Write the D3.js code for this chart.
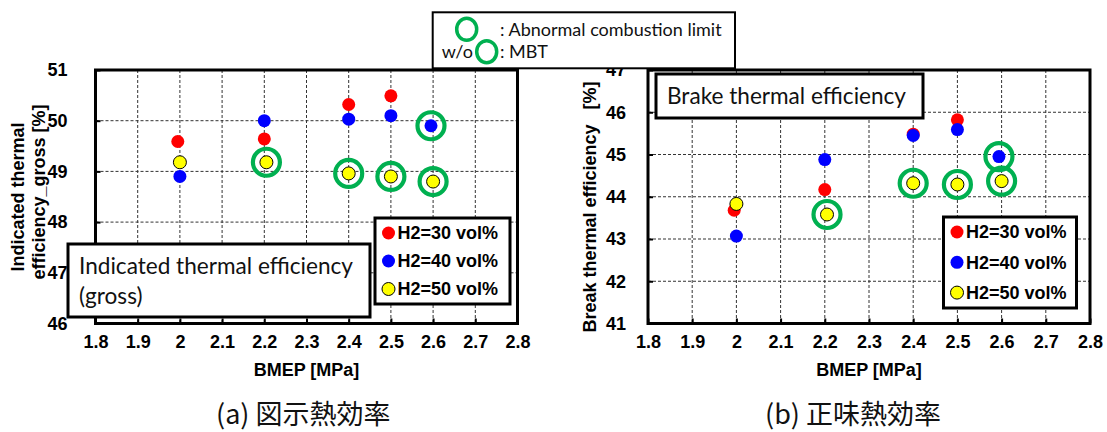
<!DOCTYPE html>
<html lang="en">

<head>
    <meta charset="utf-8">
    <title>Thermal efficiency vs BMEP</title>
    <script src="https://d3js.org/d3.v7.min.js"></script>
    <style>
        body { margin: 0; background: #fff; }
        svg { display: block; }
        .bold { font-family: "Liberation Sans", Arial, sans-serif; font-weight: bold; }
        .cal { font-family: Lato, "Open Sans", sans-serif; }
        .cjk { font-family: "Noto Sans CJK JP", sans-serif; }
    </style>
</head>

<body>
    <div id="chart"></div>
    <script>
        // ---- data ----
        var xTickValues = [1.8, 1.9, 2.0, 2.1, 2.2, 2.3, 2.4, 2.5, 2.6, 2.7, 2.8]
        var seriesNames = ["H2=30 vol%", "H2=40 vol%", "H2=50 vol%"]

        // (a) indicated thermal efficiency (gross) [%]
        var iteBmep30 = [1.995, 2.2, 2.4, 2.5]
        var ite30 = [49.59, 49.64, 50.32, 50.49]
        var iteBmep40 = [2.0, 2.2, 2.4, 2.5, 2.595]
        var ite40 = [48.90, 50.00, 50.03, 50.10, 49.90]
        var iteBmep50 = [2.0, 2.205, 2.4, 2.5, 2.6]
        var ite50 = [49.18, 49.18, 48.96, 48.90, 48.80]
        var iteLimit40 = [false, false, false, false, true]
        var iteLimit50 = [false, true, true, true, true]
        var iteYTicks = [46, 47, 48, 49, 50, 51]

        // (b) brake thermal efficiency [%]
        var bteBmep30 = [1.995, 2.2, 2.4, 2.5]
        var bte30 = [43.68, 44.17, 45.48, 45.82]
        var bteBmep40 = [2.0, 2.2, 2.4, 2.5, 2.594]
        var bte40 = [43.07, 44.88, 45.45, 45.59, 44.95]
        var bteBmep50 = [2.0, 2.205, 2.4, 2.5, 2.6]
        var bte50 = [43.83, 43.58, 44.32, 44.29, 44.37]
        var bteLimit40 = [false, false, false, false, true]
        var bteLimit50 = [false, true, true, true, true]
        var bteYTicks = [41, 42, 43, 44, 45, 46, 47]

        var colors = ["#ff0000", "#0000ff", "#ffff00"]
        var green = "#00b050"

        var width = 1107, height = 432

        var svg = d3.select("#chart").append("svg")
            .attr("width", width)
            .attr("height", height)

        function zip(xs, ys, lim) {
            return xs.map(function (x, i) { return { x: x, y: ys[i], limit: lim ? lim[i] : false } })
        }

        function drawPanel(p) {
            var x = d3.scaleLinear().domain([1.8, 2.8]).range([p.left, p.right])
            var y = d3.scaleLinear().domain(d3.extent(p.yTicks)).range([p.bottom, p.top])
            var g = svg.append("g")

            // dashed grid
            g.selectAll(".vg").data(xTickValues.slice(1, -1)).enter().append("line")
                .attr("x1", function (d) { return x(d) }).attr("x2", function (d) { return x(d) })
                .attr("y1", p.top).attr("y2", p.bottom)
                .attr("stroke", "#333").attr("stroke-width", 1).attr("stroke-dasharray", "3,2")
            g.selectAll(".hg").data(p.yTicks.slice(1, -1)).enter().append("line")
                .attr("x1", p.left).attr("x2", p.right)
                .attr("y1", function (d) { return y(d) }).attr("y2", function (d) { return y(d) })
                .attr("stroke", "#333").attr("stroke-width", 1).attr("stroke-dasharray", "3,2")

            // axes
            var xAxis = g.append("g").attr("transform", "translate(0," + p.bottom + ")")
                .call(d3.axisBottom(x).tickValues(xTickValues).tickFormat(d3.format("~g"))
                    .tickSizeInner(-5).tickSizeOuter(0).tickPadding(12))
            var yAxis = g.append("g").attr("transform", "translate(" + p.left + ",0)")
                .call(d3.axisLeft(y).tickValues(p.yTicks).tickFormat(d3.format("~g"))
                    .tickSizeInner(-5).tickSizeOuter(0).tickPadding(p.yPad))
            ;[xAxis, yAxis].forEach(function (a) {
                a.select(".domain").remove()
                a.selectAll("line").attr("stroke", "#000").attr("stroke-width", 2)
                a.selectAll("text").attr("class", "bold").style("font-size", "18px").attr("fill", "#000")
            })

            // frame
            g.append("rect").attr("x", p.left).attr("y", p.top)
                .attr("width", p.right - p.left).attr("height", p.bottom - p.top)
                .attr("fill", "none").attr("stroke", "#000").attr("stroke-width", 3)

            // points
            p.series.forEach(function (s, i) {
                g.selectAll(".pt" + i).data(s).enter().append("circle")
                    .attr("cx", function (d) { return x(d.x) })
                    .attr("cy", function (d) { return y(d.y) })
                    .attr("r", 6.5)
                    .attr("fill", colors[i])
                    .attr("stroke", i == 2 ? "#000" : "none")
                    .attr("stroke-width", 1)
            })
            // abnormal combustion limit rings
            p.series.forEach(function (s) {
                g.selectAll(".ring").data(s.filter(function (d) { return d.limit })).enter().append("circle")
                    .attr("cx", function (d) { return x(d.x) })
                    .attr("cy", function (d) { return y(d.y) })
                    .attr("r", 13.5)
                    .attr("fill", "none")
                    .attr("stroke", green)
                    .attr("stroke-width", 4.2)
            })

            // title box
            var tb = p.textBox
            g.append("rect").attr("x", tb.x).attr("y", tb.y).attr("width", tb.w).attr("height", tb.h)
                .attr("fill", "#fff").attr("stroke", "#000").attr("stroke-width", 3)
            tb.lines.forEach(function (t, i) {
                g.append("text").attr("class", "cal").attr("x", tb.x + 11).attr("y", tb.y + 30 + i * 30)
                    .style("font-size", "22.6px").attr("fill", "#111").text(t)
            })

            // legend
            var lg = p.legend
            g.append("rect").attr("x", lg.x).attr("y", lg.y).attr("width", lg.w).attr("height", lg.h)
                .attr("fill", "#fff").attr("stroke", "#000").attr("stroke-width", 3)
            seriesNames.forEach(function (name, i) {
                var cy = lg.y + lg.row0 + i * lg.step
                g.append("circle").attr("cx", lg.x + 13.5).attr("cy", cy).attr("r", 6.5)
                    .attr("fill", colors[i]).attr("stroke", i == 2 ? "#000" : "none").attr("stroke-width", 1)
                g.append("text").attr("class", "bold").attr("x", lg.x + 22.5).attr("y", cy)
                    .attr("dy", "0.36em").style("font-size", "18px").text(name)
            })

            // axis titles
            g.append("text").attr("class", "bold").attr("x", (p.left + p.right) / 2).attr("y", 376)
                .attr("text-anchor", "middle").style("font-size", "18px").text("BMEP [MPa]")
            p.yTitle.forEach(function (t) {
                g.append("text").attr("class", "bold")
                    .attr("transform", "translate(" + t.x + "," + t.y + ") rotate(-90)")
                    .attr("text-anchor", "middle").attr("dy", "0.36em")
                    .style("font-size", "18px").style("white-space", "pre").text(t.text)
            })

            // caption
            g.append("text").attr("class", "cjk").attr("x", p.caption.x).attr("y", 424)
                .style("font-size", "27px").attr("fill", "#111").text(p.caption.text)
        }

        drawPanel({
            left: 95.5, right: 517.5, top: 70, bottom: 323.5, yPad: 28,
            yTicks: iteYTicks,
            series: [zip(iteBmep30, ite30), zip(iteBmep40, ite40, iteLimit40), zip(iteBmep50, ite50, iteLimit50)],
            textBox: { x: 68, y: 244, w: 302, h: 73, lines: ["Indicated thermal efficiency", "(gross)"] },
            legend: { x: 375, y: 218, w: 135, h: 86, row0: 15, step: 28 },
            yTitle: [{ x: 18, y: 197, text: "Indicated thermal" }, { x: 39, y: 192, text: "efficiency_gross [%]" }],
            caption: { x: 216, text: "(a) 図示熱効率" }
        })

        drawPanel({
            left: 648, right: 1090, top: 70, bottom: 323.5, yPad: 22,
            yTicks: bteYTicks,
            series: [zip(bteBmep30, bte30), zip(bteBmep40, bte40, bteLimit40), zip(bteBmep50, bte50, bteLimit50)],
            textBox: { x: 656, y: 74, w: 267, h: 44, lines: ["Brake thermal efficiency"] },
            legend: { x: 943.5, y: 217, w: 133, h: 91, row0: 15, step: 30.3 },
            yTitle: [{ x: 590, y: 207, text: "Break thermal efficiency   [%]" }],
            caption: { x: 765, text: "(b) 正味熱効率" }
        })

        // top legend for the green rings
        var ringKey = svg.append("g")
        ringKey.append("rect").attr("x", 432.7).attr("y", 12.3).attr("width", 302.3).attr("height", 56)
            .attr("fill", "#fff").attr("stroke", "#000").attr("stroke-width", 2)
        ringKey.append("ellipse").attr("cx", 466.7).attr("cy", 29.3).attr("rx", 10).attr("ry", 11)
            .attr("fill", "none").attr("stroke", green).attr("stroke-width", 3.5)
        ringKey.append("ellipse").attr("cx", 486.7).attr("cy", 51.7).attr("rx", 10).attr("ry", 11)
            .attr("fill", "none").attr("stroke", green).attr("stroke-width", 3.5)
        ringKey.append("text").attr("class", "cal").attr("x", 500).attr("y", 35.5)
            .style("font-size", "18px").attr("fill", "#111").text(": Abnormal combustion limit")
        ringKey.append("text").attr("class", "cal").attr("x", 441.7).attr("y", 58)
            .style("font-size", "18px").attr("fill", "#111").text("w/o")
        ringKey.append("text").attr("class", "cal").attr("x", 500).attr("y", 58)
            .style("font-size", "18px").attr("fill", "#111").text(": MBT")
    </script>
</body>

</html>
